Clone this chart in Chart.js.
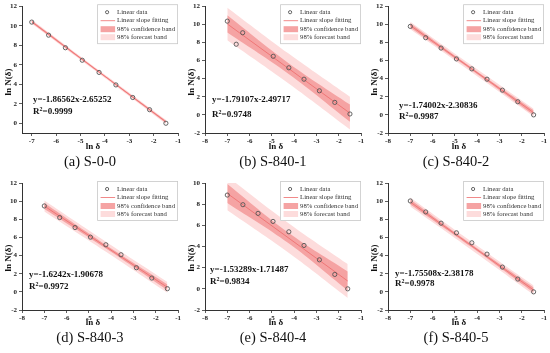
<!DOCTYPE html>
<html>
<head>
<meta charset="utf-8">
<script src="https://cdn.jsdelivr.net/npm/chart.js@4.4.1/dist/chart.umd.min.js"></script>
<style>
  body { margin: 0; background: #fff; width: 550px; height: 353px; position: relative; overflow: hidden; }
  canvas { position: absolute; }
  .cap { position: absolute; width: 180px; text-align: center; font: 14.5px "Liberation Serif", serif; color: #111; line-height: 16px; }
</style>
</head>
<body>
<script>
// ln δ / ln N(δ) values
const xA = [-7, -6.31, -5.62, -4.93, -4.24, -3.55, -2.86, -2.17, -1.5];
const yA = [10.37, 9.03, 7.74, 6.46, 5.21, 3.93, 2.64, 1.39, 0.0];
const xB = [-7, -6.6, -6.31, -4.94, -4.24, -3.56, -2.87, -2.18, -1.5];
const yB = [10.35, 7.8, 9.07, 6.47, 5.2, 3.94, 2.66, 1.38, 0.1];
const xC = [-7, -6.31, -5.62, -4.93, -4.24, -3.56, -2.87, -2.18, -1.47];
const yC = [9.77, 8.52, 7.38, 6.18, 5.08, 3.94, 2.73, 1.45, 0.0];
const xD = [-7, -6.31, -5.62, -4.93, -4.24, -3.56, -2.87, -2.18, -1.48];
const yD = [9.47, 8.19, 7.09, 6.03, 5.19, 4.09, 2.66, 1.52, 0.35];
const xE = [-7, -6.3, -5.62, -4.95, -4.24, -3.56, -2.87, -2.18, -1.6];
const yE = [8.86, 7.95, 7.13, 6.37, 5.39, 4.1, 2.74, 1.36, 0.0];
const xF = [-7, -6.31, -5.62, -4.93, -4.24, -3.56, -2.87, -2.18, -1.47];
const yF = [10.02, 8.81, 7.57, 6.51, 5.41, 4.16, 2.73, 1.41, 0.0];

const captions = ["(a) S-0-0", "(b) S-840-1", "(c) S-840-2", "(d) S-840-3", "(e) S-840-4", "(f) S-840-5"];
const slopes = [-1.86562, -1.79107, -1.74002, -1.6242, -1.53289, -1.75508];
const intercepts = [-2.65252, -2.49717, -2.30836, -1.90678, -1.71487, -2.38178];
const eqLabels = ["y=-1.86562x-2.65252", "y=-1.79107x-2.49717", "y=-1.74002x-2.30836",
                  "y=-1.6242x-1.90678", "y=-1.53289x-1.71487", "y=-1.75508x-2.38178"];
const r2Labels = ["=0.9999", "=0.9748", "=0.9987", "=0.9972", "=0.9834", "=0.9978"];
// band half widths (first x, middle, last x)
const confHalf = [[0.12, 0.08, 0.12], [0.95, 0.6, 0.95], [0.25, 0.15, 0.25],
                  [0.32, 0.2, 0.32], [0.9, 0.5, 0.9], [0.28, 0.17, 0.28]];
const foreHalf = [[0.2, 0.17, 0.2], [1.8, 1.65, 1.8], [0.42, 0.38, 0.42],
                  [0.6, 0.55, 0.6], [1.6, 1.4, 1.6], [0.5, 0.45, 0.5]];

const xTicksA = [-7, -6, -5, -4, -3, -2, -1];
const xTicks = [-8, -7, -6, -5, -4, -3, -2, -1];
const yTicksA = [0, 2, 4, 6, 8, 10, 12];
const yTicks = [-2, 0, 2, 4, 6, 8, 10, 12];
const yTicksE = [-2, 0, 2, 4, 6, 8, 10];
const legendLabels = ["Linear data", "Linear slope fitting", "98% confidence band", "98% forecast band"];

const xData = [xA, xB, xC, xD, xE, xF];
const yData = [yA, yB, yC, yD, yE, yF];

// positions and ranges of each panel
const layout = [
  { left: 0,   top: 0,   padTop: 5, xMin: -7.4, xMax: -1, yMin: -1, yMax: 12, xt: xTicksA, yt: yTicksA, eq: [33, 100, 112] },
  { left: 183, top: 0,   padTop: 6, xMin: -8, xMax: -1, yMin: -2, yMax: 12, xt: xTicks, yt: yTicks, eq: [29, 100, 115] },
  { left: 366, top: 0,   padTop: 6, xMin: -8, xMax: -1, yMin: -2, yMax: 12, xt: xTicks, yt: yTicks, eq: [33, 106, 117] },
  { left: 0,   top: 176, padTop: 7, xMin: -8, xMax: -1, yMin: -2, yMax: 12, xt: xTicks, yt: yTicks, eq: [29, 99, 111] },
  { left: 183, top: 176, padTop: 7, xMin: -8, xMax: -1, yMin: -2, yMax: 10, xt: xTicks, yt: yTicksE, eq: [27, 94, 106] },
  { left: 366, top: 176, padTop: 7, xMin: -8, xMax: -1, yMin: -2, yMax: 12, xt: xTicks, yt: yTicks, eq: [29, 98, 108] },
];

const SERIF = '"Liberation Serif", "Times New Roman", serif';
const confColor = "#f5a3a3";
const foreColor = "#fddcdc";
const lineColor = "#ee6b6b";
const axisColor = "#333";

const decor = {
  id: "decor",
  afterDraw(chart) {
    const { ctx, chartArea } = chart;
    const i = chart.options.plugins.decor.idx;
    const lay = layout[i];
    ctx.save();
    ctx.fillStyle = "#111";
    // axis titles
    ctx.font = `bold 9px ${SERIF}`;
    ctx.textAlign = "center";
    ctx.textBaseline = "middle";
    ctx.fillText("ln δ", 93, 147);
    ctx.save();
    ctx.translate(9, 82);
    ctx.rotate(-Math.PI / 2);
    ctx.fillText("ln N(δ)", 0, 0);
    ctx.restore();

    // equation + R²
    const [ex, ey, ry] = lay.eq;
    ctx.textAlign = "left";
    ctx.fillText(eqLabels[i], ex, ey);
    ctx.fillText("R", ex, ry);
    const rw = ctx.measureText("R").width;
    ctx.font = `bold 6px ${SERIF}`;
    ctx.fillText("2", ex + rw, ry - 3);
    const sw = ctx.measureText("2").width;
    ctx.font = `bold 9px ${SERIF}`;
    ctx.fillText(r2Labels[i], ex + rw + sw, ry);

    // legend
    const bx = chartArea.right - 81, by = chartArea.top - 2;
    ctx.fillStyle = "#fff";
    ctx.fillRect(bx, by, 81, 40);
    ctx.strokeStyle = "#c8c8c8";
    ctx.lineWidth = 0.8;
    ctx.strokeRect(bx + 0.5, by + 0.5, 80, 39);
    const rows = [8, 16.5, 25, 33];
    // marker
    ctx.beginPath();
    ctx.arc(bx + 10, by + rows[0], 1.6, 0, Math.PI * 2);
    ctx.strokeStyle = "#555";
    ctx.lineWidth = 0.9;
    ctx.stroke();
    // line
    ctx.beginPath();
    ctx.moveTo(bx + 3.5, by + rows[1]);
    ctx.lineTo(bx + 18, by + rows[1]);
    ctx.strokeStyle = lineColor;
    ctx.lineWidth = 0.8;
    ctx.stroke();
    ctx.fillStyle = confColor;
    ctx.fillRect(bx + 3.5, by + rows[2] - 3, 14.5, 6);
    ctx.fillStyle = foreColor;
    ctx.fillRect(bx + 3.5, by + rows[3] - 3, 14.5, 6);
    ctx.fillStyle = "#333";
    ctx.font = `6.7px ${SERIF}`;
    legendLabels.forEach((t, k) => ctx.fillText(t, bx + 20, by + rows[k]));
    ctx.restore();
  },
};

function makeChart(i) {
  const lay = layout[i];
  const cv = document.createElement("canvas");
  cv.width = 183;
  cv.height = 156;
  cv.style.left = lay.left + "px";
  cv.style.top = lay.top + "px";
  document.body.appendChild(cv);

  const cap = document.createElement("div");
  cap.className = "cap";
  cap.textContent = captions[i];
  cap.style.left = lay.left + "px";
  cap.style.top = lay.top + 153 + "px";
  document.body.appendChild(cap);

  const xs = xData[i], ys = yData[i];
  const bxs = [xs[0], -4.25, xs[xs.length - 1]];
  const fit = v => slopes[i] * v + intercepts[i];
  const band = (h, s) => bxs.map((v, k) => ({ x: v, y: fit(v) + s * h[k] }));
  const bandSet = (data, fill, color) => ({
    type: "line", data, fill, backgroundColor: color,
    borderWidth: 0, pointRadius: 0, tension: 0.4,
  });

  const tickFont = { family: SERIF, size: 7, weight: "bold" };
  const axis = (min, max, list, horiz) => ({
    type: "linear", min, max,
    afterBuildTicks: s => { s.ticks = list.map(v => ({ value: v })); },
    afterFit: s => { if (horiz) s.height = lay.top ? 22 : 23; else s.width = 22; },
    grid: { display: true, drawOnChartArea: false, drawTicks: true, tickLength: 3, color: axisColor, lineWidth: 0.8 },
    border: { display: true, color: axisColor, width: 1 },
    ticks: { font: tickFont, color: "#222", padding: horiz ? 1 : 2, maxRotation: 0, autoSkip: false },
  });

  new Chart(cv, {
    type: "scatter",
    data: {
      datasets: [
        {
          data: xs.map((x, k) => ({ x, y: ys[k] })),
          pointRadius: 2.1, pointBorderWidth: 0.9,
          pointBorderColor: "#555", pointBackgroundColor: "rgba(0,0,0,0)",
        },
        {
          type: "line",
          data: [xs[0], xs[xs.length - 1]].map(x => ({ x, y: fit(x) })),
          borderColor: lineColor, borderWidth: 0.8, pointRadius: 0, fill: false,
        },
        bandSet(band(confHalf[i], -1), false, confColor),
        bandSet(band(confHalf[i], 1), 2, confColor),
        bandSet(band(foreHalf[i], -1), false, foreColor),
        bandSet(band(foreHalf[i], 1), 4, foreColor),
      ],
    },
    options: {
      responsive: false,
      devicePixelRatio: 1,
      animation: false,
      layout: { padding: { top: lay.padTop, right: i % 3 === 0 ? 3 : 4, left: 0, bottom: 0 } },
      scales: {
        x: axis(lay.xMin, lay.xMax, lay.xt, true),
        y: axis(lay.yMin, lay.yMax, lay.yt, false),
      },
      plugins: {
        legend: { display: false },
        tooltip: { enabled: false },
        decor: { idx: i },
      },
    },
    plugins: [decor],
  });
}

for (let i = 0; i < 6; i++) makeChart(i);
</script>
</body>
</html>
